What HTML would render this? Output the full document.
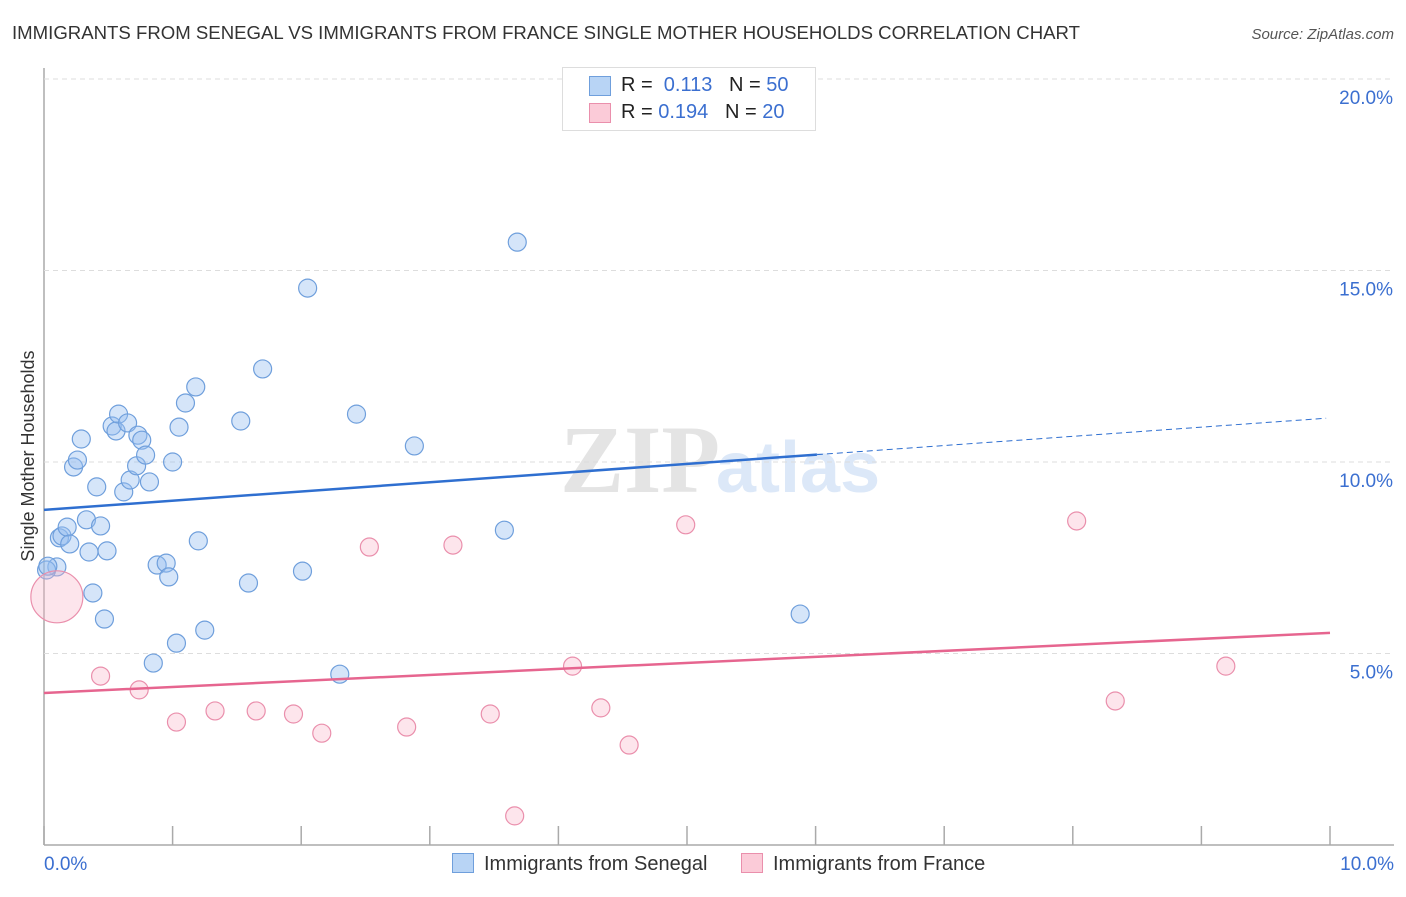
<!DOCTYPE html>
<html><head><meta charset="utf-8"><style>
body{margin:0;background:#fff;font-family:"Liberation Sans",sans-serif;}
#wrap{position:relative;width:1406px;height:892px;}
</style></head><body>
<div id="wrap">
<svg id="svg" width="1406" height="892">
<text x="12" y="39" font-size="18" fill="#333" textLength="1068" lengthAdjust="spacingAndGlyphs">IMMIGRANTS FROM SENEGAL VS IMMIGRANTS FROM FRANCE SINGLE MOTHER HOUSEHOLDS CORRELATION CHART</text>
<text x="1394" y="39" font-size="15" fill="#555" font-style="italic" text-anchor="end">Source: ZipAtlas.com</text>
<text x="720" y="492" font-size="96" fill="#e4e4e4" text-anchor="end" font-family="Liberation Serif" font-weight="bold">ZIP</text>
<text x="716" y="492" font-size="72" fill="#dce8f8" font-weight="bold">atlas</text>
<text transform="translate(34,456) rotate(-90)" font-size="18" fill="#333" text-anchor="middle">Single Mother Households</text>
<g id="grid"></g><g id="marks"></g>
</svg>
<div style="position:absolute;left:562px;top:67px;width:252px;height:62px;border:1px solid #ddd;background:#fff;font-size:20px;color:#222">
<div style="position:absolute;left:26px;top:8px;width:20px;height:18px;background:#b8d4f5;border:1px solid #6f9fdc"></div>
<div style="position:absolute;left:58px;top:6px">R = &nbsp;<span style="color:#3b6fd0">0.113</span> &nbsp;&nbsp;N = <span style="color:#3b6fd0">50</span></div>
<div style="position:absolute;left:26px;top:35px;width:20px;height:18px;background:#fbcbd8;border:1px solid #ea8fac"></div>
<div style="position:absolute;left:58px;top:33px">R = <span style="color:#3b6fd0">0.194</span> &nbsp;&nbsp;N = <span style="color:#3b6fd0">20</span></div>
</div>
<div style="position:absolute;left:452px;top:853px;font-size:20px;color:#333"><span style="display:inline-block;width:20px;height:18px;background:#b8d4f5;border:1px solid #6f9fdc;vertical-align:-3px;margin-right:10px"></span>Immigrants from Senegal</div>
<div style="position:absolute;left:741px;top:853px;font-size:20px;color:#333"><span style="display:inline-block;width:20px;height:18px;background:#fbcbd8;border:1px solid #ea8fac;vertical-align:-3px;margin-right:10px"></span>Immigrants from France</div>
</div>
<script>
const blueX=[0.10,0.02,0.12,0.14,0.18,0.20,0.23,0.26,0.29,0.33,0.35,0.38,0.41,0.44,0.47,0.49,0.53,0.56,0.58,0.62,0.65,0.67,0.72,0.73,0.76,0.79,0.82,0.85,0.88,0.95,0.97,1.00,1.03,1.05,1.10,1.18,1.20,1.25,1.53,1.59,1.70,2.01,2.05,2.30,2.43,2.88,3.58,3.68,5.88,0.03];
const blueY=[7.26,7.18,8.02,8.07,8.30,7.86,9.87,10.05,10.60,8.49,7.65,6.58,9.35,8.33,5.90,7.68,10.94,10.81,11.25,9.22,11.02,9.53,9.90,10.70,10.57,10.18,9.48,4.75,7.31,7.36,7.00,10.00,5.27,10.91,11.54,11.96,7.94,5.61,11.07,6.84,12.43,7.15,14.54,4.46,11.25,10.42,8.22,15.74,6.03,7.28];
const pinkX=[0.10,0.44,0.74,1.03,1.33,1.65,1.94,2.16,2.53,2.82,3.18,3.47,3.66,4.11,4.33,4.55,4.99,8.03,8.33,9.19];
const pinkY=[6.48,4.41,4.05,3.21,3.50,3.50,3.42,2.92,7.78,3.08,7.83,3.42,0.76,4.67,3.58,2.61,8.36,8.46,3.76,4.67];
const pinkR=[26,9,9,9,9,9,9,9,9,9,9,9,9,9,9,9,9,9,9,9];
const yTicks=[5,10,15,20];
const yTickLabels=["5.0%","10.0%","15.0%","20.0%"];
const xTicks=[0,1,2,3,4,5,6,7,8,9,10];
const blueLine=[8.75,11.15], pinkLine=[3.97,5.54], blueSolidEnd=6.01;
const xs=v=>44+v*128.6, ys=v=>845-v*38.3;
const NS="http://www.w3.org/2000/svg";
function mk(tag,attrs,parent){const e=document.createElementNS(NS,tag);for(const k in attrs)e.setAttribute(k,attrs[k]);document.getElementById(parent).appendChild(e);return e;}
let e=mk('line',{x1:44,x2:44,y1:68,y2:845,stroke:'#aaa','stroke-width':1.5},'grid');

e=mk('line',{x1:44,x2:1394,y1:845,y2:845,stroke:'#aaa','stroke-width':1.5},'grid');

yTicks.forEach((t,i)=>{
 let g=mk('line',{x1:44,x2:1394,y1:ys(t),y2:ys(t),stroke:'#ddd','stroke-dasharray':'5,4'},'grid');
 
 let l=mk('text',{x:1393,y:ys(t)+25,'font-size':19,fill:'#3b6fd0','text-anchor':'end'},'grid');l.textContent=yTickLabels[i];
 
});
xTicks.forEach(t=>{let k=mk('line',{x1:xs(t),x2:xs(t),y1:826,y2:845,stroke:'#aaa','stroke-width':1.5},'grid');
 });
let a=mk('text',{x:44,y:870,'font-size':19,fill:'#3b6fd0'},'grid');a.textContent='0.0%';

a=mk('text',{x:1394,y:870,'font-size':19,fill:'#3b6fd0','text-anchor':'end'},'grid');a.textContent='10.0%';

blueX.forEach((x,i)=>{let c=mk('circle',{cx:xs(x),cy:ys(blueY[i]),r:9,fill:'rgba(150,190,240,0.4)',stroke:'#6f9fdc','stroke-width':1.2},'marks');
 });
pinkX.forEach((x,i)=>{let c=mk('circle',{cx:xs(x),cy:ys(pinkY[i]),r:pinkR[i],fill:'rgba(248,180,200,0.35)',stroke:'#ea8fac','stroke-width':1.2},'marks');
 });
const by=x=>blueLine[0]+(blueLine[1]-blueLine[0])*x/10;
let t=mk('line',{x1:xs(0),y1:ys(by(0)),x2:xs(blueSolidEnd),y2:ys(by(blueSolidEnd)),stroke:'#2f6fd0','stroke-width':2.5},'marks');

t=mk('line',{x1:xs(blueSolidEnd),y1:ys(by(blueSolidEnd)),x2:xs(9.97),y2:ys(by(9.97)),stroke:'#2f6fd0','stroke-width':1,'stroke-dasharray':'6,4'},'marks');

t=mk('line',{x1:xs(0),y1:ys(pinkLine[0]),x2:xs(10),y2:ys(pinkLine[1]),stroke:'#e6658f','stroke-width':2.5},'marks');

</script>
</body></html>
